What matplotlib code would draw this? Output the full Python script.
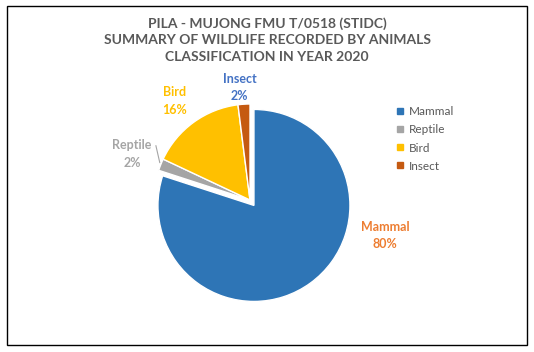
import matplotlib
matplotlib.use("Agg")
import matplotlib.pyplot as plt
from matplotlib.patches import Rectangle
from matplotlib.lines import Line2D

# data
categories = ["Mammal", "Reptile", "Bird", "Insect"]
shares = [80, 2, 16, 2]
explode = [0.07, 0, 0, 0]
slice_colors = ["#2E75B6", "#A5A5A5", "#FFC000", "#C55A11"]
label_colors = ["#ED7D31", "#A5A5A5", "#FFC000", "#4472C4"]
label_pos = [(1.41, -0.37), (-1.23, 0.48), (-0.79, 1.03), (-0.11, 1.17)]

title = ("PILA - MUJONG FMU T/0518 (STIDC)\n"
         "SUMMARY OF WILDLIFE RECORDED BY ANIMALS\n"
         "CLASSIFICATION IN YEAR 2020")

plt.rcParams['font.family'] = ['Lato', 'DejaVu Sans']

W, H = 534, 352
fig = plt.figure(figsize=(W / 100, H / 100), dpi=100)

# chart border
fig.add_artist(Rectangle((7 / W, 7 / H), 520 / W, 339 / H, transform=fig.transFigure,
                         fill=False, edgecolor="black", linewidth=1.0))

fig.text(267 / W, 1 - 40 / H, title, ha="center", va="center", fontsize=10,
         fontweight="bold", color="#595959", linespacing=1.45)

# pie axes: 240 px square centred on (250, 200)
ax = fig.add_axes([130 / W, (H - 320) / H, 240 / W, 240 / H])
ax.set_xlim(-1.304, 1.304)
ax.set_ylim(-1.304, 1.304)
ax.set_aspect("equal")
ax.set_axis_off()

wedges, _ = ax.pie(shares, explode=explode, colors=slice_colors, startangle=90,
                   counterclock=False, radius=1.0,
                   wedgeprops=dict(edgecolor="white", linewidth=1.0))

for name, val, col, (x, y) in zip(categories, shares, label_colors, label_pos):
    ax.text(x, y, f"{name}\n{val}%", ha="center", va="center", fontsize=9,
            fontweight="bold", color=col, linespacing=1.55, clip_on=False)

# leader line for Reptile
ax.plot([-0.98, -0.94], [0.565, 0.39], color="#A5A5A5", linewidth=0.8, clip_on=False)

handles = [Line2D([], [], marker="s", linestyle="none", markersize=5,
                  markerfacecolor=c, markeredgecolor=c) for c in slice_colors]
fig.legend(handles, categories, loc="center left", bbox_to_anchor=(389 / W, 1 - 139 / H),
           frameon=False, fontsize=8.5, labelcolor="#595959", handlelength=0.8,
           handletextpad=0.35, labelspacing=0.6, borderpad=0)

fig.savefig("out.png", dpi=100)
